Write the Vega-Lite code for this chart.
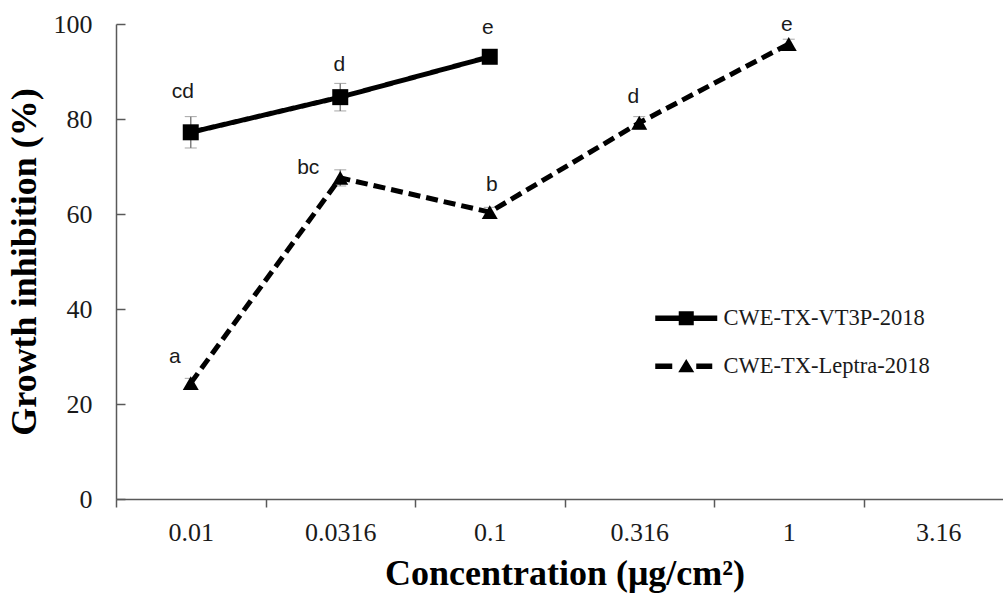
{
  "$schema": "https://vega.github.io/schema/vega-lite/v6.json",
  "width": 897,
  "height": 475,
  "autosize": {"type": "none"},
  "padding": {"left": 116, "top": 24, "right": -10, "bottom": 96},
  "background": "white",
  "config": {
    "view": {"stroke": null},
    "font": "Liberation Serif"
  },
  "data": {
    "values": [
      {"series": "CWE-TX-VT3P-2018", "conc": "0.01", "value": 77.2, "err": 3.3, "label": "cd"},
      {"series": "CWE-TX-VT3P-2018", "conc": "0.0316", "value": 84.6, "err": 2.9, "label": "d"},
      {"series": "CWE-TX-VT3P-2018", "conc": "0.1", "value": 93.1, "err": 1.0, "label": "e"},
      {"series": "CWE-TX-Leptra-2018", "conc": "0.01", "value": 24.4, "err": 1.0, "label": "a"},
      {"series": "CWE-TX-Leptra-2018", "conc": "0.0316", "value": 67.6, "err": 1.7, "label": "bc"},
      {"series": "CWE-TX-Leptra-2018", "conc": "0.1", "value": 60.4, "err": 1.0, "label": "b"},
      {"series": "CWE-TX-Leptra-2018", "conc": "0.316", "value": 79.2, "err": 1.3, "label": "d"},
      {"series": "CWE-TX-Leptra-2018", "conc": "1", "value": 95.8, "err": 1.0, "label": "e"}
    ]
  },
  "encoding": {
    "x": {
      "field": "conc",
      "type": "nominal",
      "sort": ["0.01", "0.0316", "0.1", "0.316", "1", "3.16"],
      "scale": {"domain": ["0.01", "0.0316", "0.1", "0.316", "1", "3.16"], "paddingInner": 0, "paddingOuter": 0},
      "axis": {
        "title": "Concentration (μg/cm²)",
        "titleFont": "Liberation Serif",
        "titleFontSize": 36,
        "titleFontWeight": "bold",
        "titleColor": "#000000",
        "titlePadding": 11,
        "labelAngle": 0,
        "labelFont": "Liberation Serif",
        "labelFontSize": 26,
        "labelColor": "#1a1a1a",
        "labelPadding": 12,
        "tickBand": "extent",
        "tickSize": 8,
        "tickColor": "#595959",
        "tickWidth": 1.5,
        "domainColor": "#595959",
        "domainWidth": 1.5,
        "grid": false
      }
    },
    "y": {
      "field": "value",
      "type": "quantitative",
      "scale": {"domain": [0, 100], "nice": false, "zero": true},
      "axis": {
        "title": "Growth inhibition (%)",
        "titleFont": "Liberation Serif",
        "titleFontSize": 36,
        "titleFontWeight": "bold",
        "titleColor": "#000000",
        "titlePadding": 10,
        "values": [0, 20, 40, 60, 80, 100],
        "labelFont": "Liberation Serif",
        "labelFontSize": 26,
        "labelColor": "#1a1a1a",
        "labelPadding": 33,
        "tickSize": -9,
        "tickColor": "#595959",
        "tickWidth": 1.5,
        "domainColor": "#595959",
        "domainWidth": 1.5,
        "grid": false
      }
    }
  },
  "layer": [
    {
      "mark": {
        "type": "errorbar",
        "ticks": {"size": 12, "color": "#808080", "strokeWidth": 1.5},
        "rule": {"color": "#808080", "strokeWidth": 1.5}
      },
      "encoding": {
        "yError": {"field": "err"}
      }
    },
    {
      "mark": {"type": "line", "color": "black", "strokeWidth": 5, "strokeCap": "butt"},
      "encoding": {
        "strokeDash": {
          "field": "series",
          "type": "nominal",
          "scale": {"domain": ["CWE-TX-VT3P-2018", "CWE-TX-Leptra-2018"], "range": [[1, 0], [12, 6]]},
          "legend": null
        }
      }
    },
    {
      "mark": {"type": "point", "filled": true, "color": "black", "opacity": 1, "size": 256},
      "encoding": {
        "shape": {
          "field": "series",
          "type": "nominal",
          "scale": {"domain": ["CWE-TX-VT3P-2018", "CWE-TX-Leptra-2018"], "range": ["square", "triangle-up"]},
          "legend": null
        }
      }
    },
    {
      "mark": {"type": "point", "filled": true, "color": "black", "opacity": 0, "size": 256},
      "encoding": {
        "shape": {
          "field": "series",
          "type": "nominal",
          "scale": {
            "domain": ["CWE-TX-VT3P-2018", "CWE-TX-Leptra-2018"],
            "range": [
              "M-3.875,-0.35 L-0.94,-0.35 L-0.94,-0.88 L0.94,-0.88 L0.94,-0.35 L3.875,-0.35 L3.875,0.35 L0.94,0.35 L0.94,0.88 L-0.94,0.88 L-0.94,0.35 L-3.875,0.35 Z",
              "M-3.875,-0.35 L-1.75,-0.35 L-1.75,0.35 L-3.875,0.35 Z M1.25,-0.35 L3.25,-0.35 L3.25,0.35 L1.25,0.35 Z M0,-0.9 L1.0,0.75 L-1.0,0.75 Z"
            ]
          },
          "legend": {
            "title": null,
            "orient": "none",
            "legendX": 559,
            "legendY": 283,
            "padding": 0,
            "labelFont": "Liberation Serif",
            "labelFontSize": 22.5,
            "labelColor": "#1a1a1a",
            "labelLimit": 0,
            "labelOffset": 26,
            "rowPadding": 25,
            "symbolSize": 256,
            "symbolFillColor": "black",
            "symbolStrokeWidth": 0,
            "symbolOpacity": 1,
            "encode": {"symbols": {"update": {"opacity": {"value": 1}, "fill": {"value": "black"}}}}
          }
        }
      }
    },
    {
      "transform": [{"filter": "datum.series == 'CWE-TX-VT3P-2018' && datum.conc == '0.01'"}],
      "mark": {"type": "text", "font": "Liberation Sans", "fontSize": 21, "color": "#1a1a1a", "baseline": "middle", "dx": -8, "dy": -40},
      "encoding": {"text": {"field": "label"}}
    },
    {
      "transform": [{"filter": "datum.series == 'CWE-TX-VT3P-2018' && datum.conc == '0.0316'"}],
      "mark": {"type": "text", "font": "Liberation Sans", "fontSize": 21, "color": "#1a1a1a", "baseline": "middle", "dx": -1, "dy": -32},
      "encoding": {"text": {"field": "label"}}
    },
    {
      "transform": [{"filter": "datum.series == 'CWE-TX-VT3P-2018' && datum.conc == '0.1'"}],
      "mark": {"type": "text", "font": "Liberation Sans", "fontSize": 21, "color": "#1a1a1a", "baseline": "middle", "dx": -2, "dy": -29},
      "encoding": {"text": {"field": "label"}}
    },
    {
      "transform": [{"filter": "datum.series == 'CWE-TX-Leptra-2018' && datum.conc == '0.01'"}],
      "mark": {"type": "text", "font": "Liberation Sans", "fontSize": 21, "color": "#1a1a1a", "baseline": "middle", "dx": -16, "dy": -26},
      "encoding": {"text": {"field": "label"}}
    },
    {
      "transform": [{"filter": "datum.series == 'CWE-TX-Leptra-2018' && datum.conc == '0.0316'"}],
      "mark": {"type": "text", "font": "Liberation Sans", "fontSize": 21, "color": "#1a1a1a", "baseline": "middle", "dx": -32, "dy": -10},
      "encoding": {"text": {"field": "label"}}
    },
    {
      "transform": [{"filter": "datum.series == 'CWE-TX-Leptra-2018' && datum.conc == '0.1'"}],
      "mark": {"type": "text", "font": "Liberation Sans", "fontSize": 21, "color": "#1a1a1a", "baseline": "middle", "dx": 2, "dy": -27},
      "encoding": {"text": {"field": "label"}}
    },
    {
      "transform": [{"filter": "datum.series == 'CWE-TX-Leptra-2018' && datum.conc == '0.316'"}],
      "mark": {"type": "text", "font": "Liberation Sans", "fontSize": 21, "color": "#1a1a1a", "baseline": "middle", "dx": -6, "dy": -26},
      "encoding": {"text": {"field": "label"}}
    },
    {
      "transform": [{"filter": "datum.series == 'CWE-TX-Leptra-2018' && datum.conc == '1'"}],
      "mark": {"type": "text", "font": "Liberation Sans", "fontSize": 21, "color": "#1a1a1a", "baseline": "middle", "dx": -2, "dy": -19},
      "encoding": {"text": {"field": "label"}}
    }
  ],
  "resolve": {"scale": {"shape": "independent"}}
}
